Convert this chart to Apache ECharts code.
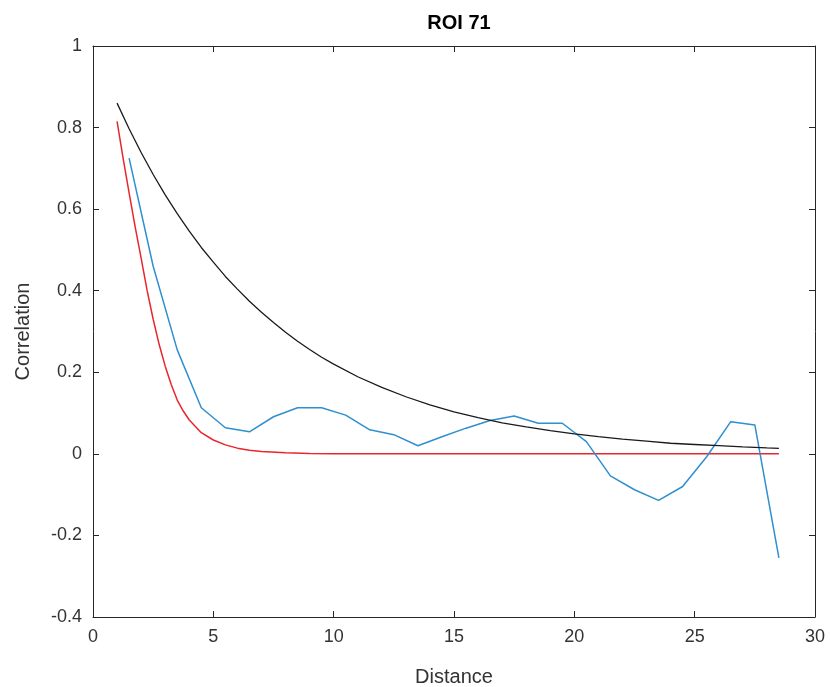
<!DOCTYPE html>
<html>
<head>
<meta charset="utf-8">
<script src="https://cdn.jsdelivr.net/npm/echarts@6/dist/echarts.min.js"></script>
<style>html,body{margin:0;padding:0;background:#fff;}#c{width:830px;height:687px;}</style>
</head>
<body>
<div id="c"></div>
<script>
var titleText = 'ROI 71';
var xName = 'Distance';
var yName = 'Correlation';
var xTicks = [0, 5, 10, 15, 20, 25, 30];
var yTicks = [-0.4, -0.2, 0, 0.2, 0.4, 0.6, 0.8, 1];

var blueX = [1.5, 2.5, 3.5, 4.5, 5.5, 6.5, 7.5, 8.5, 9.5, 10.5, 11.5, 12.5, 13.5, 14.5, 15.5, 16.5, 17.5, 18.5, 19.5, 20.5, 21.5, 22.5, 23.5, 24.5, 25.5, 26.5, 27.5, 28.5];
var blueY = [0.725, 0.46, 0.255, 0.113, 0.064, 0.054, 0.091, 0.113, 0.113, 0.095, 0.059, 0.047, 0.02, 0.042, 0.063, 0.082, 0.093, 0.075, 0.075, 0.03, -0.054, -0.088, -0.114, -0.08, -0.007, 0.079, 0.071, -0.255];

var blackX = [1, 1.5, 2, 2.5, 3, 3.5, 4, 4.5, 5, 5.5, 6, 6.5, 7, 7.5, 8, 8.5, 9, 9.5, 10, 11, 12, 13, 14, 15, 16, 17, 18, 19, 20, 21, 22, 23, 24, 25, 26, 27, 28, 28.5];
var blackY = [0.86, 0.797, 0.739, 0.685, 0.635, 0.589, 0.546, 0.506, 0.47, 0.435, 0.404, 0.374, 0.347, 0.322, 0.298, 0.276, 0.256, 0.237, 0.22, 0.189, 0.163, 0.14, 0.12, 0.103, 0.089, 0.076, 0.066, 0.057, 0.049, 0.042, 0.036, 0.031, 0.026, 0.023, 0.02, 0.017, 0.0145, 0.0135];

var redX = [1, 1.25, 1.5, 1.75, 2, 2.25, 2.5, 2.75, 3, 3.25, 3.5, 3.75, 4, 4.5, 5, 5.5, 6, 6.5, 7, 8, 9, 10, 12, 28.5];
var redY = [0.815, 0.725, 0.64, 0.557, 0.48, 0.4, 0.33, 0.268, 0.215, 0.17, 0.132, 0.105, 0.083, 0.052, 0.034, 0.022, 0.014, 0.009, 0.006, 0.0025, 0.001, 0.0004, 0, 0];

function pairs(xs, ys) { return xs.map(function (x, i) { return [x, ys[i]]; }); }

var font = 'Liberation Sans, Arial, sans-serif';
var axisCol = '#262626';
var textCol = '#333333';
var gridBox = { left: 93, right: 15, top: 46, bottom: 70, containLabel: false, outerBoundsMode: 'none' };

function fmtY(v) { return String(Math.round(v * 10) / 10); }

var lineAx = { show: true, onZero: false, lineStyle: { color: axisCol, width: 1 } };
var tickAx = { show: true, inside: true, length: 6, lineStyle: { color: axisCol } };

var chart = echarts.init(document.getElementById('c'), null, { renderer: 'canvas' });
chart.setOption({
  backgroundColor: '#fff',
  animation: false,
  title: {
    text: titleText,
    left: 93 + (830 - 93 - 15) / 2,
    textAlign: 'center',
    top: 8,
    textStyle: { fontFamily: font, fontSize: 20, fontWeight: 'bold', color: '#000' }
  },
  grid: gridBox,
  xAxis: [{
    type: 'value', position: 'bottom', min: xTicks[0], max: xTicks[xTicks.length - 1], interval: 5,
    name: xName, nameLocation: 'middle', nameGap: 50,
    nameTextStyle: { fontFamily: font, fontSize: 20, color: textCol },
    axisLine: lineAx, axisTick: tickAx,
    axisLabel: { fontFamily: font, fontSize: 18, color: textCol, margin: 11 },
    splitLine: { show: false }
  }, {
    type: 'value', position: 'top', min: xTicks[0], max: xTicks[xTicks.length - 1], interval: 5,
    axisLine: lineAx, axisTick: tickAx,
    axisLabel: { show: false }, splitLine: { show: false }
  }],
  yAxis: [{
    type: 'value', position: 'left', min: yTicks[0], max: yTicks[yTicks.length - 1], interval: 0.2,
    name: yName, nameLocation: 'middle', nameGap: 60, nameRotate: 90,
    nameTextStyle: { fontFamily: font, fontSize: 20, color: textCol },
    axisLine: lineAx, axisTick: tickAx,
    axisLabel: { fontFamily: font, fontSize: 18, color: textCol, margin: 11, formatter: fmtY },
    splitLine: { show: false }
  }, {
    type: 'value', position: 'right', min: yTicks[0], max: yTicks[yTicks.length - 1], interval: 0.2,
    axisLine: lineAx, axisTick: tickAx,
    axisLabel: { show: false }, splitLine: { show: false }
  }],
  series: [{
    type: 'line', data: pairs(blueX, blueY), showSymbol: false, symbol: 'none',
    lineStyle: { color: '#2f8fcf', width: 1.5 }, z: 3
  }, {
    type: 'line', data: pairs(redX, redY), showSymbol: false, symbol: 'none',
    lineStyle: { color: '#e8262e', width: 1.5 }, z: 2
  }, {
    type: 'line', data: pairs(blackX, blackY), showSymbol: false, symbol: 'none',
    lineStyle: { color: '#1a1a1a', width: 1.3 }, z: 4
  }]
});
</script>
</body>
</html>
